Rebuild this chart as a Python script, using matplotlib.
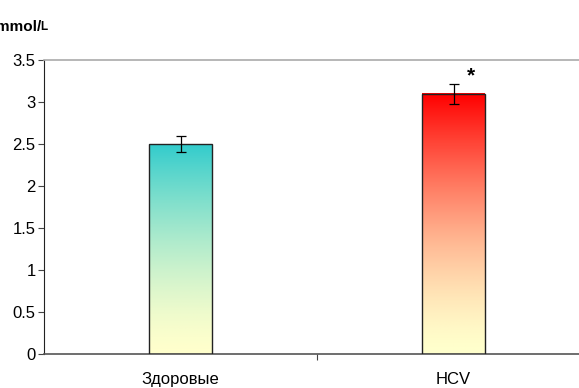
import matplotlib
matplotlib.use("Agg")
import matplotlib.pyplot as plt
import numpy as np
from matplotlib.colors import LinearSegmentedColormap

plt.rcParams['font.family'] = ['Liberation Sans', 'DejaVu Sans']

categories = ["Здоровые", "HCV"]
values = [2.5, 3.1]
errors = [0.09, 0.12]
top_colors = ["#33CCCC", "#FF0000"]
bottom_color = "#FFFFCC"
yticks = [0, 0.5, 1, 1.5, 2, 2.5, 3, 3.5]
ytick_labels = ["0", "0.5", "1", "1.5", "2", "2.5", "3", "3.5"]

W, H = 579, 388
fig = plt.figure(figsize=(W / 100, H / 100), dpi=100)
ax = fig.add_axes([44 / W, 34 / H, 546 / W, 294 / H])

x = np.arange(len(categories))
width = 0.23
grad = (np.linspace(0, 1, 256) ** 1.5).reshape(-1, 1)
for xi, v, tc in zip(x, values, top_colors):
    cmap = LinearSegmentedColormap.from_list("g", [bottom_color, tc])
    ax.imshow(grad, cmap=cmap, origin="lower", aspect="auto",
              extent=[xi - width / 2, xi + width / 2, 0, v], zorder=2,
              vmin=0, vmax=1)
ax.bar(x, values, width=width, facecolor="none", edgecolor="#222222",
       linewidth=1.0, zorder=3)
ax.errorbar(x, values, yerr=errors, fmt="none", ecolor="black",
            elinewidth=0.9, capsize=3.6, capthick=0.9, zorder=4)
ax.text(1.065, 3.31, "*", ha="center", va="center", fontsize=15,
        fontweight="bold", zorder=5)

ax.set_xlim(-0.5, 1.5)
ax.set_ylim(0, 3.5)
ax.set_yticks(yticks)
ax.set_yticklabels(ytick_labels, fontsize=12)
ax.set_xticks([0.5])
ax.set_xticklabels([""])
ax.tick_params(axis="x", direction="out", length=4, width=0.8, color="#444444")
ax.tick_params(axis="y", direction="out", length=4, width=0.8, pad=2,
               color="#444444")
for xi, c in zip(x, categories):
    ax.text(xi, -0.3, c, ha="center", va="center", fontsize=12,
            transform=ax.transData)

ax.spines["right"].set_visible(False)
ax.spines["top"].set_color("#aaaaaa")
ax.spines["top"].set_linewidth(1.2)
ax.spines["left"].set_color("#222222")
ax.spines["bottom"].set_color("#555555")
ax.spines["bottom"].set_linewidth(1.2)

fig.text(47 / W, 1 - 27 / H, "L", ha="right", va="center", fontsize=8.5,
         fontweight="bold")
fig.text(41 / W, 1 - 27 / H, "mmol/", ha="right", va="center", fontsize=11,
         fontweight="bold")

fig.savefig("out.png", dpi=100)
